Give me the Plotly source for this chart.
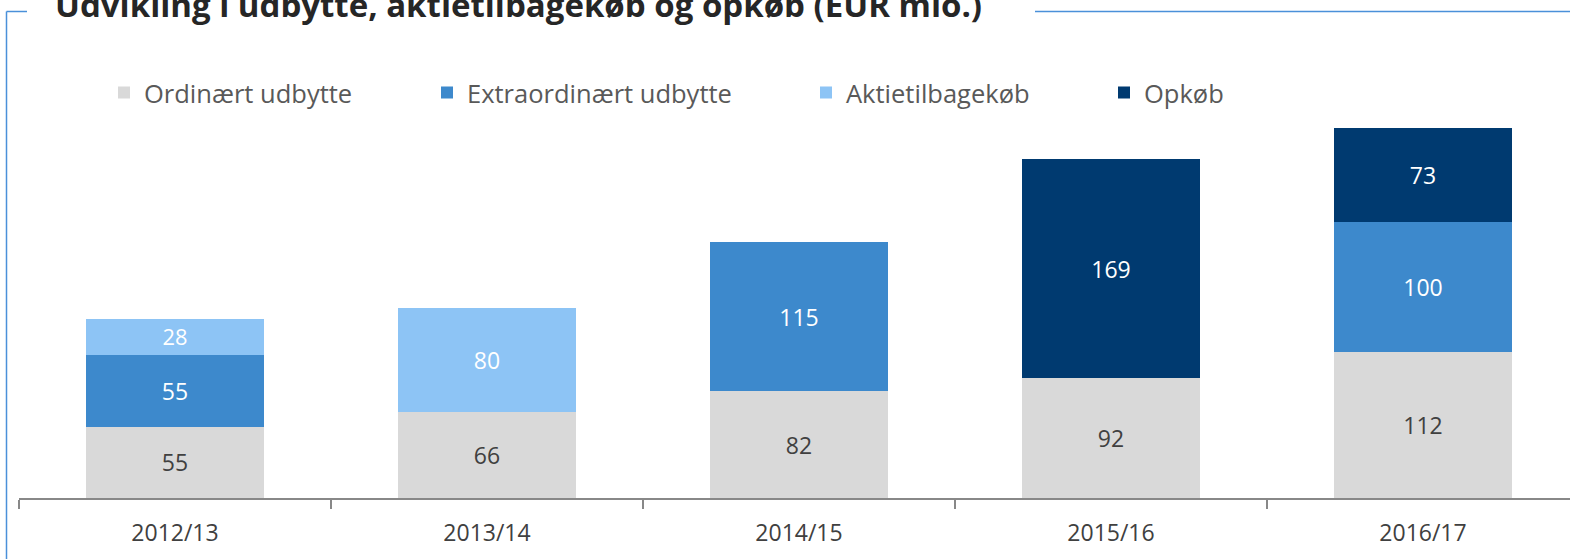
import plotly.graph_objects as go

categories = ["2012/13", "2013/14", "2014/15", "2015/16", "2016/17"]
ordinaert = [55, 66, 82, 92, 112]
extraordinaert = [55, None, 115, None, 100]
aktietilbagekob = [28, 80, None, None, None]
opkob = [None, None, None, 169, 73]

series_names = ["Ordinært udbytte", "Extraordinært udbytte", "Aktietilbagekøb", "Opkøb"]
series_values = [ordinaert, extraordinaert, aktietilbagekob, opkob]
colors = ["#D9D9D9", "#3D89CC", "#8DC4F5", "#003A70"]
text_colors = ["#404040", "#FFFFFF", "#FFFFFF", "#FFFFFF"]
title_text = "Udvikling i udbytte, aktietilbagekøb og opkøb (EUR mio.)"

W, H = 1570, 559
ML, MR, MT, MB = 19, 0, 120, 61
cat_px = 312.0
px_per_unit = 1.30
plot_w = W - ML - MR
plot_h = H - MT - MB

FONT = "Open Sans"

fig = go.Figure()
legend_names = ["legend", "legend2", "legend3", "legend4"]
for name, vals, col, tcol, lg in zip(series_names, series_values, colors, text_colors, legend_names):
    fig.add_trace(go.Bar(
        x=categories, y=vals, name=name,
        marker=dict(color=col, line=dict(width=0)),
        text=[("" if v is None else str(v)) for v in vals],
        textposition="inside", insidetextanchor="middle", textangle=0,
        insidetextfont=dict(family=FONT, size=23, color=tcol),
        width=0.57, legend=lg, hoverinfo="skip",
    ))

# legend text start positions (pixels) for each entry
legend_text_px = [145, 468, 847, 1145]
leg_layout = {}
for lg, tx in zip(legend_names, legend_text_px):
    leg_layout[lg] = dict(
        x=(tx - 41) / W, xref="container", xanchor="left",
        y=1 - 93 / H, yref="container", yanchor="middle",
        orientation="h", bgcolor="rgba(0,0,0,0)", borderwidth=0,
        font=dict(family=FONT, size=25.5, color="#595959"),
        itemclick=False, itemdoubleclick=False,
    )

def px_x(p):
    return (p - ML) / plot_w

def px_y(p):
    return (H - MB - p) / plot_h

line_col = "#4A90D9"
shapes = [
    dict(type="line", xref="paper", yref="paper", x0=px_x(6.5), x1=px_x(6.5), y0=px_y(11.5), y1=px_y(H + 5),
         line=dict(color=line_col, width=1.5)),
    dict(type="line", xref="paper", yref="paper", x0=px_x(6.5), x1=px_x(27), y0=px_y(11.5), y1=px_y(11.5),
         line=dict(color=line_col, width=1.5)),
    dict(type="line", xref="paper", yref="paper", x0=px_x(1035), x1=px_x(W + 5), y0=px_y(11.5), y1=px_y(11.5),
         line=dict(color=line_col, width=1.5)),
]

fig.update_layout(
    width=W, height=H,
    margin=dict(l=ML, r=MR, t=MT, b=MB, pad=0),
    barmode="stack",
    paper_bgcolor="white", plot_bgcolor="white",
    font=dict(family=FONT, color="#404040"),
    shapes=shapes,
    annotations=[dict(
        text="<b>" + title_text + "</b>", xref="paper", yref="paper",
        x=px_x(53), y=px_y(17), xanchor="left", yanchor="bottom", yshift=-12,
        showarrow=False, font=dict(family=FONT, size=33, color="#262626"),
    )],
    xaxis=dict(
        type="category", range=[-0.5, -0.5 + plot_w / cat_px],
        showline=True, linecolor="#888888", linewidth=2,
        ticks="outside", tickson="boundaries", ticklen=9, tickwidth=2, tickcolor="#888888",
        tickfont=dict(family=FONT, size=23, color="#404040"),
        ticklabelstandoff=13,
        showgrid=False, zeroline=False, fixedrange=True,
    ),
    yaxis=dict(
        range=[0, plot_h / px_per_unit], visible=False, showgrid=False, zeroline=False, fixedrange=True,
    ),
    showlegend=True,
    **leg_layout,
)

fig.write_html("out.html", config={"displayModeBar": False},
               post_script="document.body.style.margin='0';")
